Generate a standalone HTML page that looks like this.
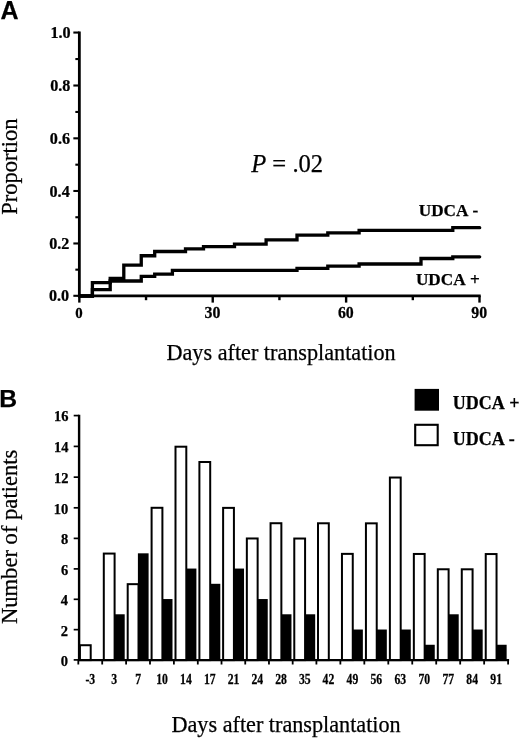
<!DOCTYPE html>
<html><head><meta charset="utf-8"><title>Figure</title>
<style>
html,body{margin:0;padding:0;background:#fff;}
body{width:520px;height:738px;overflow:hidden;}
svg{display:block;will-change:transform;}
text{font-family:"Liberation Serif",serif;fill:#000;stroke:#000;stroke-width:0.25px;}
.b{font-weight:bold;}
.s{font-family:"Liberation Sans",sans-serif;font-weight:bold;}
</style></head><body>
<svg width="520" height="738" viewBox="0 0 520 738">
<rect width="520" height="738" fill="#fff"/>

<text class="s" x="0.60" y="19.20" font-size="25" text-anchor="start">A</text>
<path d="M79.35 31.55 V295.8 H480.70" fill="none" stroke="#000" stroke-width="2.8"/>
<path d="M73.35 295.80 H79.35" stroke="#000" stroke-width="2.1"/>
<text class="b" transform="translate(69.10,301.40) scale(0.98,1)" font-size="16.5" text-anchor="end">0.0</text>
<path d="M75.35 269.66 H79.35" stroke="#000" stroke-width="2.1"/>
<path d="M73.35 243.47 H79.35" stroke="#000" stroke-width="2.1"/>
<text class="b" transform="translate(69.42,249.07) scale(0.98,1)" font-size="16.5" text-anchor="end">0.2</text>
<path d="M75.35 217.25 H79.35" stroke="#000" stroke-width="2.1"/>
<path d="M73.35 190.98 H79.35" stroke="#000" stroke-width="2.1"/>
<text class="b" transform="translate(69.74,196.58) scale(0.98,1)" font-size="16.5" text-anchor="end">0.4</text>
<path d="M75.35 164.68 H79.35" stroke="#000" stroke-width="2.1"/>
<path d="M73.35 138.33 H79.35" stroke="#000" stroke-width="2.1"/>
<text class="b" transform="translate(70.06,143.93) scale(0.98,1)" font-size="16.5" text-anchor="end">0.6</text>
<path d="M75.35 111.95 H79.35" stroke="#000" stroke-width="2.1"/>
<path d="M73.35 85.52 H79.35" stroke="#000" stroke-width="2.1"/>
<text class="b" transform="translate(70.38,91.12) scale(0.98,1)" font-size="16.5" text-anchor="end">0.8</text>
<path d="M75.35 59.05 H79.35" stroke="#000" stroke-width="2.1"/>
<path d="M73.35 32.55 H79.35" stroke="#000" stroke-width="2.1"/>
<text class="b" transform="translate(70.70,38.15) scale(0.98,1)" font-size="16.5" text-anchor="end">1.0</text>
<path d="M79.35 295.8 V302.6" stroke="#000" stroke-width="2.4"/>
<text class="b" transform="translate(79.05,317.80) scale(0.96,1)" font-size="15.5" text-anchor="middle">0</text>
<path d="M146.04 295.8 V300.2" stroke="#000" stroke-width="2.4"/>
<path d="M212.73 295.8 V302.6" stroke="#000" stroke-width="2.4"/>
<text class="b" transform="translate(212.43,317.80) scale(0.96,1)" font-size="16.5" text-anchor="middle">30</text>
<path d="M279.42 295.8 V300.2" stroke="#000" stroke-width="2.4"/>
<path d="M346.12 295.8 V302.6" stroke="#000" stroke-width="2.4"/>
<text class="b" transform="translate(345.82,317.80) scale(0.96,1)" font-size="16.5" text-anchor="middle">60</text>
<path d="M412.81 295.8 V300.2" stroke="#000" stroke-width="2.4"/>
<path d="M479.50 295.8 V302.6" stroke="#000" stroke-width="2.4"/>
<text class="b" transform="translate(479.20,317.80) scale(0.96,1)" font-size="16.5" text-anchor="middle">90</text>
<path d="M79.35 296 H92.40 V282.7 H110.20 V278.5 H123.80 V265.2 H141.25 V255.75 H154.70 V251.5 H185.50 V248.9 H203.50 V246.7 H234.50 V244.1 H266.10 V239.9 H297.00 V235.1 H327.80 V232.9 H359.10 V230.3 H452.80 V227.7 H479.70" fill="none" stroke="#000" stroke-width="3.3" stroke-linejoin="miter" stroke-linecap="round"/>
<path d="M79.35 296 H92.40 V289.7 H110.20 V281.0 H141.25 V276.3 H154.70 V274.1 H172.40 V270.3 H297.00 V268.3 H327.80 V266.1 H359.10 V264.0 H421.00 V258.5 H452.80 V256.8 H479.70" fill="none" stroke="#000" stroke-width="3.3" stroke-linejoin="miter" stroke-linecap="round"/>
<text class="b" x="418.80" y="215.60" font-size="17.2" text-anchor="start">UDCA</text>
<text class="b" x="478.20" y="215.60" font-size="17.2" text-anchor="end" stroke="#000" stroke-width="0.5">-</text>
<text class="b" x="415.90" y="285.10" font-size="17.2" text-anchor="start">UDCA</text>
<text class="b" x="479.80" y="285.10" font-size="17.2" text-anchor="end" stroke="#000" stroke-width="0.5">+</text>
<text x="251.20" y="171.90" font-size="24.6" text-anchor="start"><tspan font-style="italic">P</tspan> = .02</text>
<text x="166.50" y="359.60" font-size="22.2" text-anchor="start">Days after transplantation</text>
<text transform="translate(16.6,214.7) rotate(-90)" font-size="22.5">Proportion</text>
<text class="s" x="-0.70" y="406.80" font-size="24.7" text-anchor="start">B</text>
<rect x="79.90" y="645.22" width="10.8" height="14.88" fill="#fff" stroke="#000" stroke-width="2"/>
<text class="b" transform="translate(90.34,683.50) scale(0.86,1)" font-size="13.6" text-anchor="middle">-3</text>
<rect x="114.00" y="614.28" width="10.7" height="45.82" fill="#000"/>
<rect x="103.80" y="553.57" width="10.8" height="106.53" fill="#fff" stroke="#000" stroke-width="2"/>
<text class="b" transform="translate(114.24,683.50) scale(0.86,1)" font-size="13.6" text-anchor="middle">3</text>
<rect x="137.90" y="553.32" width="10.7" height="106.78" fill="#000"/>
<rect x="127.70" y="584.16" width="10.8" height="75.94" fill="#fff" stroke="#000" stroke-width="2"/>
<text class="b" transform="translate(138.14,683.50) scale(0.86,1)" font-size="13.6" text-anchor="middle">7</text>
<rect x="161.80" y="599.04" width="10.7" height="61.06" fill="#000"/>
<rect x="151.60" y="507.79" width="10.8" height="152.31" fill="#fff" stroke="#000" stroke-width="2"/>
<text class="b" transform="translate(162.04,683.50) scale(0.86,1)" font-size="13.6" text-anchor="middle">10</text>
<rect x="185.70" y="568.56" width="10.7" height="91.54" fill="#000"/>
<rect x="175.50" y="446.70" width="10.8" height="213.40" fill="#fff" stroke="#000" stroke-width="2"/>
<text class="b" transform="translate(185.94,683.50) scale(0.86,1)" font-size="13.6" text-anchor="middle">14</text>
<rect x="209.60" y="583.80" width="10.7" height="76.30" fill="#000"/>
<rect x="199.40" y="462.01" width="10.8" height="198.09" fill="#fff" stroke="#000" stroke-width="2"/>
<text class="b" transform="translate(209.84,683.50) scale(0.86,1)" font-size="13.6" text-anchor="middle">17</text>
<rect x="233.32" y="568.56" width="10.7" height="91.54" fill="#000"/>
<rect x="223.12" y="507.88" width="10.8" height="152.22" fill="#fff" stroke="#000" stroke-width="2"/>
<text class="b" transform="translate(233.56,683.50) scale(0.86,1)" font-size="13.6" text-anchor="middle">21</text>
<rect x="257.04" y="599.04" width="10.7" height="61.06" fill="#000"/>
<rect x="246.84" y="538.47" width="10.8" height="121.63" fill="#fff" stroke="#000" stroke-width="2"/>
<text class="b" transform="translate(257.28,683.50) scale(0.86,1)" font-size="13.6" text-anchor="middle">24</text>
<rect x="280.76" y="614.28" width="10.7" height="45.82" fill="#000"/>
<rect x="270.56" y="523.22" width="10.8" height="136.88" fill="#fff" stroke="#000" stroke-width="2"/>
<text class="b" transform="translate(281.00,683.50) scale(0.86,1)" font-size="13.6" text-anchor="middle">28</text>
<rect x="304.48" y="614.28" width="10.7" height="45.82" fill="#000"/>
<rect x="294.28" y="538.53" width="10.8" height="121.57" fill="#fff" stroke="#000" stroke-width="2"/>
<text class="b" transform="translate(304.72,683.50) scale(0.86,1)" font-size="13.6" text-anchor="middle">35</text>
<rect x="318.00" y="523.28" width="10.8" height="136.82" fill="#fff" stroke="#000" stroke-width="2"/>
<text class="b" transform="translate(328.44,683.50) scale(0.86,1)" font-size="13.6" text-anchor="middle">42</text>
<rect x="352.16" y="629.52" width="10.7" height="30.58" fill="#000"/>
<rect x="341.96" y="553.87" width="10.8" height="106.23" fill="#fff" stroke="#000" stroke-width="2"/>
<text class="b" transform="translate(352.40,683.50) scale(0.86,1)" font-size="13.6" text-anchor="middle">49</text>
<rect x="376.12" y="629.52" width="10.7" height="30.58" fill="#000"/>
<rect x="365.93" y="523.34" width="10.8" height="136.76" fill="#fff" stroke="#000" stroke-width="2"/>
<text class="b" transform="translate(376.36,683.50) scale(0.86,1)" font-size="13.6" text-anchor="middle">56</text>
<rect x="400.09" y="629.52" width="10.7" height="30.58" fill="#000"/>
<rect x="389.89" y="477.53" width="10.8" height="182.57" fill="#fff" stroke="#000" stroke-width="2"/>
<text class="b" transform="translate(400.33,683.50) scale(0.86,1)" font-size="13.6" text-anchor="middle">63</text>
<rect x="424.05" y="644.76" width="10.7" height="15.34" fill="#000"/>
<rect x="413.85" y="553.96" width="10.8" height="106.14" fill="#fff" stroke="#000" stroke-width="2"/>
<text class="b" transform="translate(424.29,683.50) scale(0.86,1)" font-size="13.6" text-anchor="middle">70</text>
<rect x="448.01" y="614.28" width="10.7" height="45.82" fill="#000"/>
<rect x="437.81" y="569.27" width="10.8" height="90.83" fill="#fff" stroke="#000" stroke-width="2"/>
<text class="b" transform="translate(448.25,683.50) scale(0.86,1)" font-size="13.6" text-anchor="middle">77</text>
<rect x="471.98" y="629.52" width="10.7" height="30.58" fill="#000"/>
<rect x="461.78" y="569.30" width="10.8" height="90.80" fill="#fff" stroke="#000" stroke-width="2"/>
<text class="b" transform="translate(472.21,683.50) scale(0.86,1)" font-size="13.6" text-anchor="middle">84</text>
<rect x="495.94" y="644.76" width="10.7" height="15.34" fill="#000"/>
<rect x="485.74" y="554.05" width="10.8" height="106.05" fill="#fff" stroke="#000" stroke-width="2"/>
<text class="b" transform="translate(496.18,683.50) scale(0.86,1)" font-size="13.6" text-anchor="middle">91</text>
<path d="M79.1 414.80 V660.1 H509.1" fill="none" stroke="#000" stroke-width="2.4"/>
<path d="M78.30 660.1 V664.5" stroke="#000" stroke-width="1.8"/>
<path d="M102.20 660.1 V664.5" stroke="#000" stroke-width="1.8"/>
<path d="M126.10 660.1 V664.5" stroke="#000" stroke-width="1.8"/>
<path d="M150.00 660.1 V664.5" stroke="#000" stroke-width="1.8"/>
<path d="M173.90 660.1 V664.5" stroke="#000" stroke-width="1.8"/>
<path d="M197.80 660.1 V664.5" stroke="#000" stroke-width="1.8"/>
<path d="M221.52 660.1 V664.5" stroke="#000" stroke-width="1.8"/>
<path d="M245.24 660.1 V664.5" stroke="#000" stroke-width="1.8"/>
<path d="M268.96 660.1 V664.5" stroke="#000" stroke-width="1.8"/>
<path d="M292.68 660.1 V664.5" stroke="#000" stroke-width="1.8"/>
<path d="M316.40 660.1 V664.5" stroke="#000" stroke-width="1.8"/>
<path d="M340.36 660.1 V664.5" stroke="#000" stroke-width="1.8"/>
<path d="M364.32 660.1 V664.5" stroke="#000" stroke-width="1.8"/>
<path d="M388.29 660.1 V664.5" stroke="#000" stroke-width="1.8"/>
<path d="M412.25 660.1 V664.5" stroke="#000" stroke-width="1.8"/>
<path d="M436.21 660.1 V664.5" stroke="#000" stroke-width="1.8"/>
<path d="M460.18 660.1 V664.5" stroke="#000" stroke-width="1.8"/>
<path d="M484.14 660.1 V664.5" stroke="#000" stroke-width="1.8"/>
<path d="M508.10 660.1 V664.5" stroke="#000" stroke-width="1.8"/>
<path d="M73.69999999999999 659.90 H79.1" stroke="#000" stroke-width="1.7"/>
<text class="b" x="68.00" y="665.90" font-size="14.5" text-anchor="end">0</text>
<path d="M73.69999999999999 629.64 H79.1" stroke="#000" stroke-width="1.7"/>
<text class="b" x="68.06" y="635.60" font-size="14.5" text-anchor="end">2</text>
<path d="M73.69999999999999 599.31 H79.1" stroke="#000" stroke-width="1.7"/>
<text class="b" x="68.12" y="605.23" font-size="14.5" text-anchor="end">4</text>
<path d="M73.69999999999999 568.89 H79.1" stroke="#000" stroke-width="1.7"/>
<text class="b" x="68.19" y="574.77" font-size="14.5" text-anchor="end">6</text>
<path d="M73.69999999999999 538.39 H79.1" stroke="#000" stroke-width="1.7"/>
<text class="b" x="68.25" y="544.23" font-size="14.5" text-anchor="end">8</text>
<path d="M73.69999999999999 507.81 H79.1" stroke="#000" stroke-width="1.7"/>
<text class="b" x="68.31" y="513.61" font-size="14.5" text-anchor="end">10</text>
<path d="M73.69999999999999 477.15 H79.1" stroke="#000" stroke-width="1.7"/>
<text class="b" x="68.38" y="482.91" font-size="14.5" text-anchor="end">12</text>
<path d="M73.69999999999999 446.40 H79.1" stroke="#000" stroke-width="1.7"/>
<text class="b" x="68.44" y="452.12" font-size="14.5" text-anchor="end">14</text>
<path d="M73.69999999999999 415.58 H79.1" stroke="#000" stroke-width="1.7"/>
<text class="b" x="68.50" y="421.26" font-size="14.5" text-anchor="end">16</text>
<rect x="414.6" y="388.9" width="24.4" height="21.8" fill="#000"/>
<rect x="415.2" y="424.8" width="22.5" height="20.4" fill="#fff" stroke="#000" stroke-width="2.1"/>
<text class="b" x="452.80" y="409.30" font-size="18" text-anchor="start">UDCA</text>
<text class="b" x="509.20" y="409.30" font-size="18" text-anchor="start" stroke="#000" stroke-width="0.5">+</text>
<text class="b" x="452.80" y="444.50" font-size="18" text-anchor="start">UDCA</text>
<text class="b" x="508.80" y="444.50" font-size="18" text-anchor="start" stroke="#000" stroke-width="0.5">-</text>
<text x="171.50" y="732.00" font-size="22.2" text-anchor="start">Days after transplantation</text>
<text transform="translate(16.9,624.1) rotate(-90)" font-size="22.6">Number of patients</text>
</svg></body></html>
